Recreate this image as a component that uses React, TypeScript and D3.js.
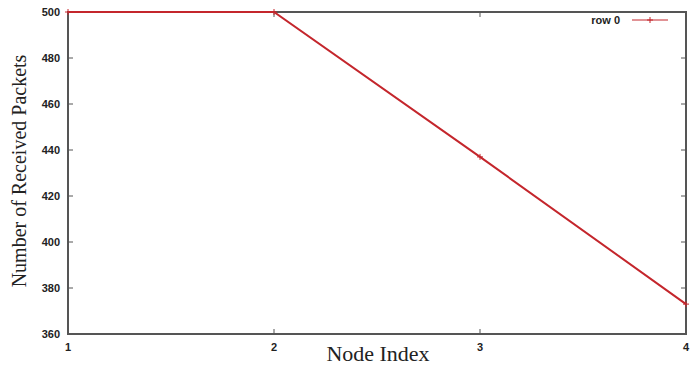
import React, { useEffect, useRef } from "react";
import * as d3 from "d3";

const nodeIndex = [1, 2, 3, 4];
const receivedPackets = [500, 500, 437, 373];
const yTicks = [360, 380, 400, 420, 440, 460, 480, 500];
const xTicks = [1, 2, 3, 4];
const seriesName = "row 0";

const W = 697;
const H = 367;
const margin = { top: 12, right: 11, bottom: 33, left: 68 };

const App: React.FC = () => {
  const svgRef = useRef<SVGSVGElement>(null);

  useEffect(() => {
    const svg = d3.select(svgRef.current);
    svg.selectAll("*").remove();

    const width = W - margin.left - margin.right;
    const height = H - margin.top - margin.bottom;

    const x = d3.scaleLinear().domain([1, 4]).range([0, width]);
    const y = d3.scaleLinear().domain([360, 500]).range([height, 0]);

    const chart = svg
      .append("g")
      .attr("transform", `translate(${margin.left},${margin.top})`);

    const axisColor = "#555";
    const tickFont = "'Liberation Sans', Arial, sans-serif";

    // frame
    chart
      .append("rect")
      .attr("width", width)
      .attr("height", height)
      .attr("fill", "none")
      .attr("stroke", axisColor)
      .attr("stroke-width", 2);

    // y ticks (inward, mirrored)
    yTicks.forEach((t) => {
      if (t === 360 || t === 500) return;
      chart.append("line").attr("x1", 0).attr("x2", 5).attr("y1", y(t)).attr("y2", y(t)).attr("stroke", axisColor);
      chart.append("line").attr("x1", width).attr("x2", width - 5).attr("y1", y(t)).attr("y2", y(t)).attr("stroke", axisColor);
    });
    chart
      .selectAll(".ylab")
      .data(yTicks)
      .enter()
      .append("text")
      .attr("x", -8)
      .attr("y", (d) => y(d))
      .attr("dy", "0.35em")
      .attr("text-anchor", "end")
      .attr("font-family", tickFont)
      .attr("font-weight", "bold")
      .attr("font-size", 11)
      .attr("fill", "#222")
      .text((d) => d);

    // x ticks
    xTicks.forEach((t) => {
      if (t === 1 || t === 4) return;
      chart.append("line").attr("x1", x(t)).attr("x2", x(t)).attr("y1", height).attr("y2", height - 5).attr("stroke", axisColor);
      chart.append("line").attr("x1", x(t)).attr("x2", x(t)).attr("y1", 0).attr("y2", 5).attr("stroke", axisColor);
    });
    chart
      .selectAll(".xlab")
      .data(xTicks)
      .enter()
      .append("text")
      .attr("x", (d) => x(d))
      .attr("y", height + 17)
      .attr("text-anchor", "middle")
      .attr("font-family", tickFont)
      .attr("font-weight", "bold")
      .attr("font-size", 11)
      .attr("fill", "#222")
      .text((d) => d);

    // axis titles
    svg
      .append("text")
      .attr("transform", `translate(26, ${margin.top + height / 2 - 2}) rotate(-90)`)
      .attr("text-anchor", "middle")
      .attr("font-family", "'Liberation Serif', 'Times New Roman', serif")
      .attr("font-size", 20)
      .attr("fill", "#222")
      .text("Number of Received Packets");
    svg
      .append("text")
      .attr("x", 378)
      .attr("y", H - 6)
      .attr("text-anchor", "middle")
      .attr("font-family", "'Liberation Serif', 'Times New Roman', serif")
      .attr("font-size", 22)
      .attr("fill", "#222")
      .text("Node Index");

    const red = "#c4262c";
    const pts = nodeIndex.map((n, i) => [n, receivedPackets[i]] as [number, number]);

    const line = d3
      .line<[number, number]>()
      .x((d) => x(d[0]))
      .y((d) => y(d[1]));

    chart
      .append("path")
      .datum(pts)
      .attr("d", line)
      .attr("fill", "none")
      .attr("stroke", red)
      .attr("stroke-width", 2);

    const plus = (g: d3.Selection<SVGGElement, unknown, null, undefined>, cx: number, cy: number) => {
      g.append("line").attr("x1", cx - 3).attr("x2", cx + 3).attr("y1", cy).attr("y2", cy).attr("stroke", red).attr("stroke-width", 1);
      g.append("line").attr("x1", cx).attr("x2", cx).attr("y1", cy - 3).attr("y2", cy + 3).attr("stroke", red).attr("stroke-width", 1);
    };
    const markers = chart.append("g");
    pts.forEach((p) => plus(markers, x(p[0]), y(p[1])));

    // legend
    const lg = chart.append("g");
    const lx = width - 54;
    const ly = 8;
    lg.append("text")
      .attr("x", lx - 12)
      .attr("y", ly)
      .attr("dy", "0.35em")
      .attr("text-anchor", "end")
      .attr("font-family", tickFont)
      .attr("font-weight", "bold")
      .attr("font-size", 11)
      .attr("fill", "#222")
      .text(seriesName);
    lg.append("line")
      .attr("x1", lx)
      .attr("x2", lx + 36)
      .attr("y1", ly)
      .attr("y2", ly)
      .attr("stroke", red)
      .attr("stroke-width", 1);
    plus(lg, lx + 18, ly);
  }, []);

  return (
    <svg
      ref={svgRef}
      width={W}
      height={H}
      style={{ position: "absolute", left: 0, top: 0, background: "#fff" }}
    />
  );
};

export default App;
